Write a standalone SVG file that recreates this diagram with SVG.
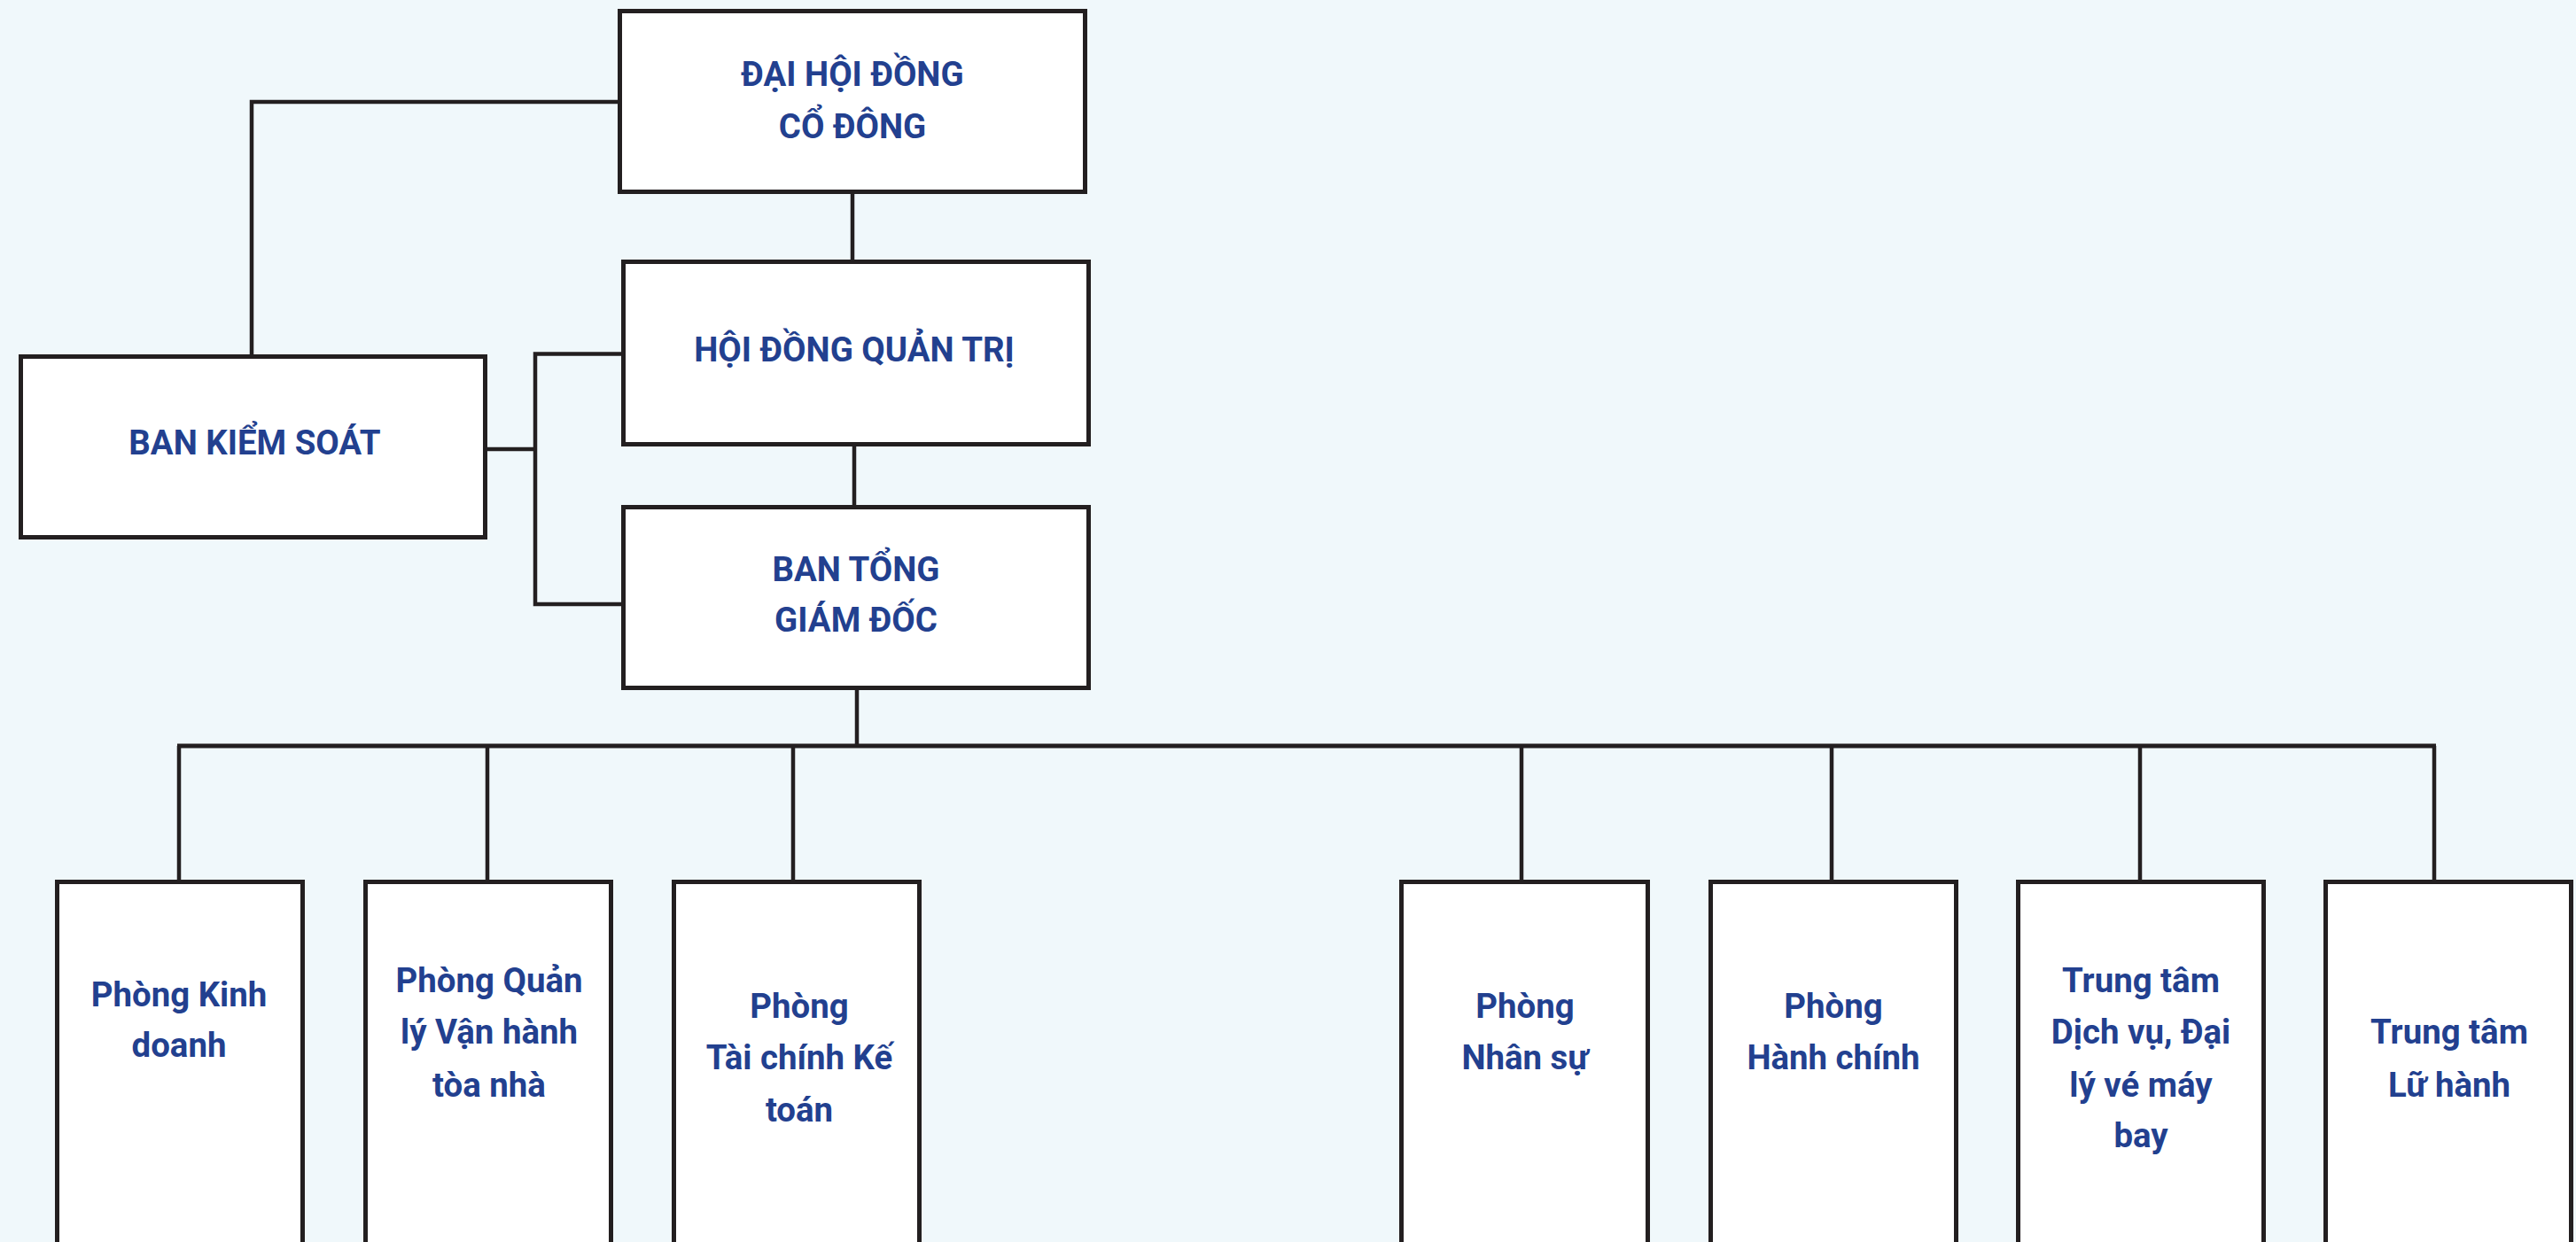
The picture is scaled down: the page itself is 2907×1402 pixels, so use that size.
<svg xmlns="http://www.w3.org/2000/svg" width="2907" height="1402" viewBox="0 0 2907 1402">
<style>
.box{fill:#ffffff;stroke:#231f20;stroke-width:5}
.ln{fill:none;stroke:#231f20;stroke-width:4.5}
.bus{fill:none;stroke:#231f20;stroke-width:5}
.t{font-family:Roboto,"Liberation Sans",sans-serif;font-weight:700;font-size:38.4px;fill:#22408f;text-anchor:middle}
</style>
<rect width="2907" height="1402" fill="#f0f8fb"/>
<g id="connectors">
<path class="ln" d="M697 115 H284 V400"/>
<path class="ln" d="M962 219 V293"/>
<path class="ln" d="M964 504 V570"/>
<path class="ln" d="M550 507 H604 M701 399.5 H604 V682 H701"/>
<path class="ln" d="M967 779 V842"/>
<path class="bus" d="M200 842 H2749"/>
<path class="ln" d="M202 842 V993 M550 842 V993 M895 842 V993 M1717 842 V993 M2067 842 V993 M2415 842 V993 M2747 842 V993"/>
</g>
<g id="dhdcd">
<rect class="box" x="699.5" y="12.5" width="525" height="204"/>
<text class="t" x="962" y="97">ĐẠI HỘI ĐỒNG</text>
<text class="t" x="962" y="156">CỔ ĐÔNG</text>
</g>
<g id="hdqt">
<rect class="box" x="703.5" y="295.5" width="525" height="206"/>
<text class="t" x="964" y="408">HỘI ĐỒNG QUẢN TRỊ</text>
</g>
<g id="bks">
<rect class="box" x="23.5" y="402.5" width="524" height="204"/>
<text class="t" x="287.5" y="513">BAN KIỂM SOÁT</text>
</g>
<g id="btgd">
<rect class="box" x="703.5" y="572.5" width="525" height="204"/>
<text class="t" x="966" y="656">BAN TỔNG</text>
<text class="t" x="966" y="713">GIÁM ĐỐC</text>
</g>
<g id="p-kinhdoanh">
<rect class="box" x="64.5" y="995.5" width="277" height="430"/>
<text class="t" x="202" y="1136">Phòng Kinh</text>
<text class="t" x="202" y="1193">doanh</text>
</g>
<g id="p-quanly">
<rect class="box" x="412.5" y="995.5" width="277" height="430"/>
<text class="t" x="552" y="1120">Phòng Quản</text>
<text class="t" x="552" y="1178">lý Vận hành</text>
<text class="t" x="552" y="1238">tòa nhà</text>
</g>
<g id="p-taichinh">
<rect class="box" x="760.5" y="995.5" width="277" height="430"/>
<text class="t" x="902" y="1149">Phòng</text>
<text class="t" x="902" y="1207">Tài chính Kế</text>
<text class="t" x="902" y="1266">toán</text>
</g>
<g id="p-nhansu">
<rect class="box" x="1581.5" y="995.5" width="278" height="430"/>
<text class="t" x="1721" y="1149">Phòng</text>
<text class="t" x="1721" y="1207">Nhân sự</text>
</g>
<g id="p-hanhchinh">
<rect class="box" x="1930.5" y="995.5" width="277" height="430"/>
<text class="t" x="2069" y="1149">Phòng</text>
<text class="t" x="2069" y="1207">Hành chính</text>
</g>
<g id="tt-dichvu">
<rect class="box" x="2277.5" y="995.5" width="277" height="430"/>
<text class="t" x="2416" y="1120">Trung tâm</text>
<text class="t" x="2416" y="1178">Dịch vụ, Đại</text>
<text class="t" x="2416" y="1238">lý vé máy</text>
<text class="t" x="2416" y="1295">bay</text>
</g>
<g id="tt-luhanh">
<rect class="box" x="2624.5" y="995.5" width="277" height="430"/>
<text class="t" x="2764" y="1178">Trung tâm</text>
<text class="t" x="2764" y="1238">Lữ hành</text>
</g>
</svg>
